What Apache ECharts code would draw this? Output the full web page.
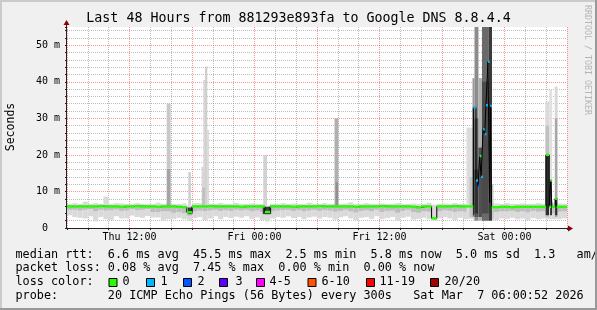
<!DOCTYPE html>
<html><head><meta charset="utf-8">
<script src="https://cdn.jsdelivr.net/npm/echarts@6/dist/echarts.min.js"></script>
<style>html,body{margin:0;padding:0;background:#f0f0f0;}#c{width:597px;height:310px;}</style>
</head><body><div id="c"></div>
<script>
// ---------------- data ----------------
// x = hours since Thu 00:00 ; window Thu 06:00 -> Sat 06:00
const xMin = 6, xMax = 54;
const xLabelHours = [12, 24, 36, 48];
const xLabelText = ['Thu 12:00', 'Fri 00:00', 'Fri 12:00', 'Sat 00:00'];
const yMax = 55;                     // ms
const yLabelVals = [0, 10, 20, 30, 40, 50];
const yLabelText = ['0\u00a0\u00a0', '10 m', '20 m', '30 m', '40 m', '50 m'];

// base smoke, 30-minute bins starting at Thu 06:00 (96 bins), values in ms
const binStart = 6, binHours = 0.5;
const smokeMin = [3.5,3.0,2.8,2.6,3.2,1.8,3.0,2.4,2.2,3.2, 2.6,2.6,3.4,3.0,2.8,3.3,2.9,2.9,2.0,2.4,
  2.5,2.8,2.4,2.0,2.7,3.0,2.2,2.6,3.2,2.4, 3.0,2.7,3.1,2.8,3.2,2.5,2.9,2.2,1.8,2.6,
  3.0,2.8,3.2,2.7,3.0,2.4,2.9,3.1,2.6,3.0, 2.8,2.3,2.9,3.2,2.6,2.1,2.8,3.0,2.5,3.2,
  2.4,2.7,3.0,2.0,2.8,3.1,2.3,2.5,2.8,2.4, 2.0,2.6,3.0,2.6,2.2,2.8,2.4,2.5,2.0,2.0,
  2.0,2.0,2.2,2.6,2.5,2.8,2.4,2.6,2.2,2.7, 2.4,2.6,2.4,2.4,2.4,2.6];
const smokeMid = [5.0,5.0,4.8,5.0,5.2,4.6,5.0,4.8,4.9,5.1, 4.7,4.8,5.2,4.9,5.0,5.2,4.4,4.4,4.6,4.6,
  4.2,4.4,4.1,3.4,4.6,4.8,4.6,4.8,5.0,4.7, 4.9,4.7,5.0,4.8,5.0,4.6,4.8,4.4,3.6,4.6,
  4.8,4.9,5.0,4.7,4.9,4.6,4.8,5.0,4.7,4.9, 4.8,4.5,4.7,5.0,4.6,4.3,4.7,4.9,4.6,5.0,
  4.4,4.7,4.8,4.2,4.7,5.0,4.4,4.2,4.6,4.5, 2.3,4.6,4.9,4.7,4.4,4.6,4.5,4.4,4.0,4.0,
  4.0,4.0,4.4,4.6,4.6,4.7,4.4,4.6,4.3,4.7, 4.5,4.6,4.0,4.0,4.5,4.6];
const smokeMax = [6.6,6.8,6.6,7.2,6.6,6.8,6.6,8.6,6.6,6.8, 6.7,6.6,6.6,6.8,6.6,6.6,6.6,6.9,6.6,6.8,
  6.6,6.6,6.7,6.2,6.8,6.8,6.6,6.6,6.6,6.8, 6.6,6.6,6.9,6.6,6.6,6.7,6.6,6.6,6.2,6.6,
  6.6,6.8,6.6,6.7,6.6,6.6,6.9,6.6,6.6,6.8, 6.6,6.6,6.6,6.7,7.0,6.6,6.6,6.8,6.6,6.6,
  6.7,6.6,6.6,6.8,6.6,6.6,6.7,6.6,6.6,6.9, 6.4,6.6,6.7,6.6,6.8,6.6,6.6,6.6,7.0,7.0,
  7.0,7.0,6.7,6.6,6.8,6.6,6.6,6.7,6.6,6.6, 6.8,6.6,7.0,7.0,6.7,6.6];
const medianBase = [5.9,5.9,5.9,5.9,5.9,5.9,6.0,5.9,5.9,5.9, 5.8,5.9,5.9,6.0,5.9,5.9,5.9,5.8,5.9,5.9,
  5.9,5.8,5.7,4.3,5.9,5.9,5.9,6.0,5.9,5.9, 5.9,5.9,5.9,5.8,5.9,5.9,5.9,5.9,4.4,5.9,
  5.9,5.9,5.9,5.8,5.9,5.9,5.9,5.9,6.0,5.9, 5.9,5.9,5.9,5.9,5.9,5.8,5.9,5.9,5.9,5.9,
  6.0,5.9,5.9,5.9,5.9,5.9,5.8,5.6,5.9,5.9, 2.65,5.9,5.9,5.9,6.0,5.9,5.9,5.9,null,null,
  null,null,5.7,5.8,5.8,5.7,5.8,5.8,5.8,5.8, 5.8,5.8,null,null,5.8,5.8];

// detailed median steps inside the two busy periods (start hour, ms, lost pings; -1 = no colour)
const medDetailT = [45.00,45.26,45.46,45.61,45.76,45.94,46.10,46.22,46.41,46.57,46.63,46.76, 51.98,52.30,52.40,52.56,52.86];
const medDetailV = [33.0,13.0,11.5,19.7,14.0,27.0,25.7,33.6,45.5,7.0,33.4,5.7, 20.0,5.8,13.0,5.8,8.0];
const medDetailLoss = [1,1,2,0,1,1,1,1,1,-1,1,0, 0,0,0,0,0];

// smoke spikes (start hour, end hour, low ms, high ms, shade)
const spikeStart = [15.57,15.57, 17.64,17.60, 18.93,18.98,19.09,19.25,19.41, 24.84,24.79, 31.68,31.78,
  44.35,44.64,44.93,44.98,45.12,45.12,45.12,45.50,45.50,45.84,45.84,46.46,46.80,
  51.92,51.95,51.95,52.30,52.38,52.82,52.84,52.86];
const spikeEnd = [15.95,15.95, 17.90,18.05, 19.45,19.30,19.30,19.47,19.63, 25.20,25.60, 32.06,32.02,
  44.98,44.98,45.12,45.12,45.50,45.50,45.50,45.84,45.84,46.46,46.46,46.80,46.94,
  52.30,52.30,52.28,52.58,52.56,53.10,53.07,53.07];
const spikeLow = [5.6,16.2, 6.2,3.8, 6.2,6.2,16.8,6.2,6.2, 6.2,3.8, 6.2,6.2,
  3.0,3.0,3.0,3.5,2.0,3.0,4.0,2.0,3.0,2.0,4.0,2.0,2.5,
  3.0,3.0,3.5,3.0,3.5,3.0,3.0,3.5];
const spikeHigh = [16.2,34.0, 15.3,5.6, 16.8,11.0,40.5,44.2,26.8, 20.0,5.8, 30.0,12.5,
  27.5,14.0,41.0,33.0,55.0,30.0,16.0,41.0,22.0,55.0,40.0,55.0,12.0,
  34.6,28.0,20.0,37.8,13.0,38.7,30.0,8.2];
const spikeShade = ['#a4a4a4','#c8c8c8', '#d0d0d0','#3c3c3c', '#d6d6d6','#c0c0c0','#d6d6d6','#d0d0d0','#dcdcdc', '#d2d2d2','#3a3a3a', '#b0b0b0','#909090',
  '#dcdcdc','#c4c4c4','#9a9a9a','#2a2a2a','#8c8c8c','#555555','#303030','#b0b0b0','#505050','#6a6a6a','#4a4a4a','#3a3a3a','#c8c8c8',
  '#dadada','#c0c0c0','#2e2e2e','#e0e0e0','#303030','#d8d8d8','#a8a8a8','#2e2e2e'];

// loss colours (index = lost pings class)
const lossColors = ['#26ff00', '#00b8ff', '#0059ff', '#5e00ff', '#ff00ff', '#ff5500', '#ff0000', '#a10000'];
const lossLabels = ['0', '1', '2', '3', '4-5', '6-10', '11-19', '20/20'];

const titleText = 'Last 48 Hours from 881293e893fa to Google DNS 8.8.4.4';
const legendLines = [
  'median rtt:  6.6 ms avg  45.5 ms max  2.5 ms min  5.8 ms now  5.0 ms sd  1.3   am/s',
  'packet loss: 0.08 % avg  7.45 % max  0.00 % min  0.00 % now',
  'loss color:',
  'probe:       20 ICMP Echo Pings (56 Bytes) every 300s   Sat Mar  7 06:00:52 2026'
];

// ---------------- build ----------------
const MONO = '"DejaVu Sans Mono", monospace';
const MAJ = 'rgba(255,60,60,0.55)', MIN = 'rgba(110,110,110,0.45)';

const baseData = smokeMin.map((v, i) => [binStart + i * binHours, binStart + (i + 1) * binHours, v, smokeMax[i]]);
const spikeData = spikeStart.map((s, i) => [s, spikeEnd[i], spikeLow[i], spikeHigh[i]]);

let med = [];
medianBase.forEach((v, i) => { if (v !== null) med.push([binStart + i * binHours, v, 0]); });
medDetailT.forEach((t, i) => med.push([t, medDetailV[i], medDetailLoss[i]]));
med.sort((a, b) => a[0] - b[0]);
const medSeg = med.map((m, i) => [m[0], i + 1 < med.length ? med[i + 1][0] : xMax, m[1], m[2]]);
const medLine = med.map(m => [m[0], m[1]]).concat([[xMax, med[med.length - 1][1]]]);

function rectBetween(api, t0, t1, lo, hi, fill) {
  const a = api.coord([t0, hi]), b = api.coord([t1, lo]);
  return { type: 'rect', shape: { x: a[0], y: a[1], width: b[0] - a[0], height: b[1] - a[1] }, style: { fill: fill } };
}

const chart = echarts.init(document.getElementById('c'));
const option = {
  animation: false,
  backgroundColor: '#f0f0f0',
  grid: { left: 67, top: 27, right: 30, bottom: 82, show: true, backgroundColor: '#ffffff', borderWidth: 0 },
  xAxis: {
    type: 'value', min: xMin, max: xMax, interval: 2,
    axisLine: { show: false },
    axisTick: { show: true, length: 2, lineStyle: { color: '#222' } },
    axisLabel: {
      margin: 4, fontFamily: MONO, fontSize: 10, color: '#000',
      formatter: v => { const k = xLabelHours.indexOf(v); return k >= 0 ? xLabelText[k] : ''; }
    },
    splitLine: { show: true, lineStyle: { color: [MAJ, MIN, MIN], type: [1, 1], width: 1 } }
  },
  yAxis: {
    type: 'value', min: 0, max: yMax, interval: 2,
    axisLine: { show: false },
    axisTick: { show: true, length: 2, lineStyle: { color: '#222' } },
    axisLabel: {
      margin: 7, fontFamily: MONO, fontSize: 10, color: '#000',
      formatter: v => { const k = yLabelVals.indexOf(v); return k >= 0 ? yLabelText[k] : ''; }
    },
    splitLine: { show: true, showMaxLine: false, lineStyle: { color: [MAJ, MIN, MIN, MIN, MIN], type: [1, 1], width: 1 } }
  },
  series: [
    { type: 'custom', z: 2, clip: true, data: baseData, encode: { x: [0, 1], y: [2, 3] },
      renderItem: (p, api) => {
        const i = p.dataIndex, d = baseData[i];
        const m = medianBase[i] === null ? 5.8 : medianBase[i];
        return { type: 'group', children: [
          rectBetween(api, d[0], d[1], d[2], d[3], '#dadada'),
          rectBetween(api, d[0], d[1], smokeMid[i], m + 0.3, '#bdbdbd')
        ] };
      } },
    { type: 'custom', z: 3, clip: true, data: spikeData, encode: { x: [0, 1], y: [2, 3] },
      renderItem: (p, api) => { const d = spikeData[p.dataIndex]; return rectBetween(api, d[0], d[1], d[2], d[3], spikeShade[p.dataIndex]); } },
    { type: 'line', z: 4, step: 'end', data: medLine, showSymbol: false, symbol: 'none', clip: true,
      lineStyle: { color: '#000', width: 1 } },
    { type: 'custom', z: 6, clip: true, data: medSeg, encode: { x: [0, 1], y: 2 },
      renderItem: (p, api) => {
        const d = medSeg[p.dataIndex];
        if (d[3] < 0) return null;
        const a = api.coord([d[0], d[2]]), b = api.coord([d[1], d[2]]);
        return { type: 'rect', z2: 10, shape: { x: a[0], y: a[1] - 1.2, width: Math.max(b[0] - a[0], 1.8), height: 2.4 }, style: { fill: lossColors[d[3]] } };
      } }
  ]
};
chart.setOption(option);

// decorations: axis lines with arrows, texts, frame
const o = chart.convertToPixel({ gridIndex: 0 }, [xMin, 0]);
const e = chart.convertToPixel({ gridIndex: 0 }, [xMax, yMax]);
const ax = Math.round(o[0]) - 0.5, ay = Math.round(o[1]) + 0.5;
const g = [];
g.push({ type: 'line', shape: { x1: ax, y1: ay, x2: ax, y2: e[1] - 4 }, style: { stroke: '#222', lineWidth: 1 }, z: 50 });
g.push({ type: 'line', shape: { x1: ax, y1: ay, x2: e[0] + 3, y2: ay }, style: { stroke: '#222', lineWidth: 1 }, z: 50 });
g.push({ type: 'polygon', shape: { points: [[ax - 3, e[1] - 2], [ax + 3, e[1] - 2], [ax, e[1] - 7]] }, style: { fill: '#8b0000' }, z: 51 });
g.push({ type: 'polygon', shape: { points: [[e[0] + 1, ay - 3], [e[0] + 1, ay + 3], [e[0] + 6, ay]] }, style: { fill: '#8b0000' }, z: 51 });
g.push({ type: 'text', x: 298.5, y: 19, style: { text: titleText, font: '13.3px ' + MONO, fill: '#000', align: 'center', verticalAlign: 'middle' }, z: 50 });
g.push({ type: 'text', x: 11, y: 127, rotation: Math.PI / 2, style: { text: 'Seconds', font: '11.5px ' + MONO, fill: '#000', align: 'center', verticalAlign: 'middle' }, z: 50 });
g.push({ type: 'text', x: 587, y: 60, rotation: -Math.PI / 2, style: { text: 'RRDTOOL / TOBI OETIKER', font: '8.3px ' + MONO, fill: '#b4b4b4', align: 'center', verticalAlign: 'middle' }, z: 50 });
const lineY = [254.5, 268.3, 282, 295.5];
legendLines.forEach((s, i) => g.push({ type: 'text', x: 15.5, y: lineY[i], style: { text: s, font: '11.8px ' + MONO, fill: '#000', align: 'left', verticalAlign: 'middle' }, z: 50 }));
const boxX = [108.5, 146, 183, 219, 256, 307.5, 366, 430];
const boxLabelX = [122.5, 160.5, 197.5, 235.5, 269.5, 321.5, 379.5, 444.5];
lossLabels.forEach((l, i) => {
  g.push({ type: 'rect', shape: { x: boxX[i] + 0.5, y: 278.5, width: 8, height: 8 }, style: { fill: lossColors[i], stroke: '#000', lineWidth: 1 }, z: 50 });
  g.push({ type: 'text', x: boxLabelX[i], y: lineY[2], style: { text: l, font: '11.8px ' + MONO, fill: '#000', align: 'left', verticalAlign: 'middle' }, z: 50 });
});
// 3D frame
g.push({ type: 'rect', shape: { x: 0, y: 0, width: 597, height: 2 }, style: { fill: '#cbcbcb' }, z: 60 });
g.push({ type: 'rect', shape: { x: 0, y: 0, width: 2, height: 310 }, style: { fill: '#cbcbcb' }, z: 60 });
g.push({ type: 'rect', shape: { x: 0, y: 308, width: 597, height: 2 }, style: { fill: '#999999' }, z: 61 });
g.push({ type: 'rect', shape: { x: 595, y: 0, width: 2, height: 310 }, style: { fill: '#999999' }, z: 61 });
chart.setOption({ graphic: g });
</script>
</body></html>
